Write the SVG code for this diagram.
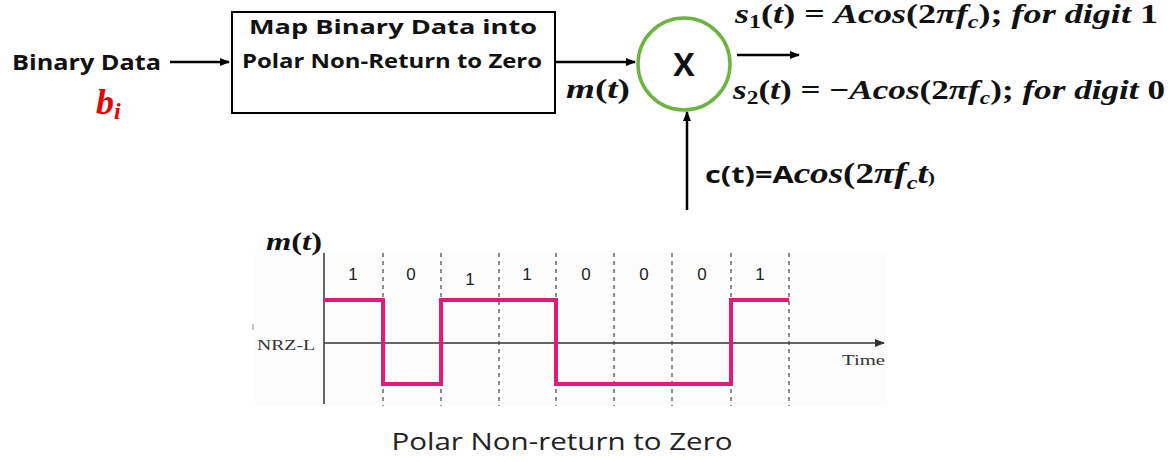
<svg xmlns="http://www.w3.org/2000/svg" width="1172" height="462" viewBox="0 0 1172 462">
<style>
.lbl{font-family:"Open Sans","Liberation Sans",sans-serif;font-weight:bold;fill:#111}
.math{font-family:"Liberation Serif","DejaVu Serif",serif;font-weight:bold;font-style:italic;fill:#111}
.up{font-style:normal}
.ser{font-family:"Liberation Serif",serif;fill:#333}
.bit{font-family:"Liberation Sans",sans-serif;font-size:17px;fill:#222}
.ln{stroke:#000;stroke-width:2.5;fill:none}
.dash{stroke:#444;stroke-width:1.2;stroke-dasharray:4 4;fill:none}
</style>
<defs>
<marker id="ah" viewBox="0 0 10 10" refX="9" refY="5" markerWidth="4" markerHeight="4" orient="auto" markerUnits="strokeWidth"><path d="M0,1 L10,5 L0,9 z" fill="#000"/></marker>
<marker id="ah2" viewBox="0 0 10 10" refX="9" refY="5" markerWidth="7" markerHeight="7" orient="auto" markerUnits="strokeWidth"><path d="M0,1 L10,5 L0,9 z" fill="#333"/></marker>
</defs>

<g id="input">
<text class="lbl" x="12" y="70" font-size="21" textLength="149" lengthAdjust="spacingAndGlyphs">Binary Data</text>
<text class="math" x="96" y="114" font-size="36" style="fill:#e00">b<tspan font-size="24" dy="5">i</tspan></text>
</g>

<g id="mapper">
<rect x="232" y="12" width="323" height="101" fill="#fff" stroke="#000" stroke-width="2"/>
<text class="lbl" x="393" y="34" font-size="20" text-anchor="middle" textLength="288" lengthAdjust="spacingAndGlyphs">Map Binary Data into</text>
<text class="lbl" x="392" y="68" font-size="20" text-anchor="middle" textLength="300" lengthAdjust="spacingAndGlyphs">Polar Non-Return to Zero</text>
</g>

<g id="multiplier">
<circle cx="684" cy="64" r="46" fill="#fff" stroke="#6db33f" stroke-width="3.5"/>
<text class="lbl" x="684" y="76" font-size="32" text-anchor="middle">X</text>
</g>

<g id="connectors">
<line class="ln" x1="170" y1="62" x2="229" y2="62" marker-end="url(#ah)"/>
<line class="ln" x1="555" y1="62" x2="635" y2="62" marker-end="url(#ah)"/>
<line class="ln" x1="737" y1="55" x2="799" y2="55" marker-end="url(#ah)"/>
<line class="ln" x1="687" y1="210" x2="687" y2="112" marker-end="url(#ah)"/>
</g>

<g id="labels">
<text class="math" x="566" y="98" font-size="28" textLength="64" lengthAdjust="spacingAndGlyphs">m<tspan class="up">(</tspan>t<tspan class="up">)</tspan></text>
<text class="math" x="735" y="23" font-size="27" textLength="423" lengthAdjust="spacingAndGlyphs">s<tspan class="up" font-size="18" dy="5">1</tspan><tspan class="up" dy="-5">(</tspan>t<tspan class="up">) = </tspan>Acos<tspan class="up">(2</tspan>πf<tspan font-size="18" dy="5">c</tspan><tspan class="up" dy="-5">);</tspan> for digit <tspan class="up">1</tspan></text>
<text class="math" x="733" y="99" font-size="27" textLength="432" lengthAdjust="spacingAndGlyphs">s<tspan class="up" font-size="18" dy="5">2</tspan><tspan class="up" dy="-5">(</tspan>t<tspan class="up">) = −</tspan>Acos<tspan class="up">(2</tspan>πf<tspan font-size="18" dy="5">c</tspan><tspan class="up" dy="-5">);</tspan> for digit <tspan class="up">0</tspan></text>
<text x="705" y="183" font-size="24" textLength="230" lengthAdjust="spacingAndGlyphs"><tspan class="lbl" font-size="24">c(t)=A</tspan><tspan class="math" font-size="29">cos<tspan class="up">(2</tspan>πf<tspan font-size="19" dy="6">c</tspan><tspan dy="-6">t</tspan><tspan class="up" font-size="17">)</tspan></tspan></text>
</g>

<g id="chart">
<rect x="255" y="252" width="632" height="154" fill="#fcfcfc"/>
<text class="math" x="266" y="250" font-size="26" textLength="56" lengthAdjust="spacingAndGlyphs">m<tspan class="up">(</tspan>t<tspan class="up">)</tspan></text>
<line x1="324" y1="253" x2="324" y2="404" stroke="#333" stroke-width="1.5"/>
<line x1="324" y1="343" x2="884" y2="343" stroke="#333" stroke-width="1.5" marker-end="url(#ah2)"/>
<g class="dash">
<line x1="383" y1="253" x2="383" y2="406"/>
<line x1="441" y1="253" x2="441" y2="406"/>
<line x1="499" y1="253" x2="499" y2="406"/>
<line x1="556" y1="253" x2="556" y2="406"/>
<line x1="614" y1="253" x2="614" y2="406"/>
<line x1="672" y1="253" x2="672" y2="406"/>
<line x1="731" y1="253" x2="731" y2="406"/>
<line x1="789" y1="253" x2="789" y2="406"/>
</g>
<text class="bit" x="353" y="280" text-anchor="middle">1</text>
<text class="bit" x="411" y="280" text-anchor="middle">0</text>
<text class="bit" x="470" y="285" text-anchor="middle">1</text>
<text class="bit" x="527" y="280" text-anchor="middle">1</text>
<text class="bit" x="586" y="280" text-anchor="middle">0</text>
<text class="bit" x="644" y="280" text-anchor="middle">0</text>
<text class="bit" x="702" y="280" text-anchor="middle">0</text>
<text class="bit" x="760" y="280" text-anchor="middle">1</text>
<path d="M324,300 H383 V384 H441 V300 H556 V384 H731 V300 H789" fill="none" stroke="#e6187a" stroke-width="4"/>
<line x1="253" y1="324" x2="253" y2="330" stroke="#888" stroke-width="1"/>
<text class="ser" x="257" y="350" font-size="15" textLength="58" lengthAdjust="spacingAndGlyphs">NRZ-L</text>
<text class="ser" x="842" y="365" font-size="15" textLength="43" lengthAdjust="spacingAndGlyphs">Time</text>
<text x="562" y="450" font-size="23" text-anchor="middle" fill="#222" font-family="Open Sans, Liberation Sans, sans-serif" textLength="341" lengthAdjust="spacingAndGlyphs">Polar Non-return to Zero</text>
</g>
</svg>
